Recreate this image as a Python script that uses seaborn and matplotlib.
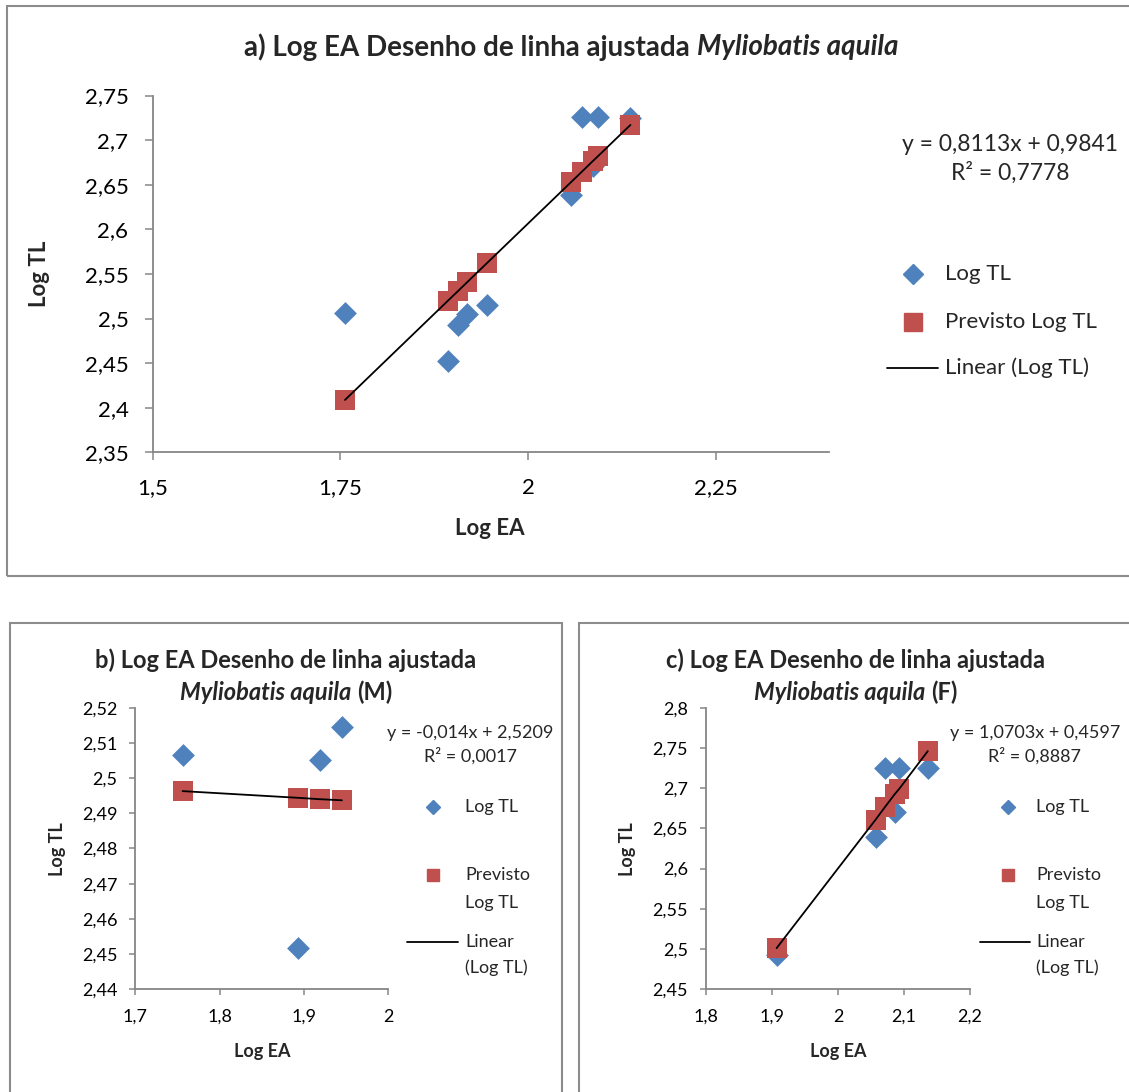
import matplotlib
matplotlib.use("Agg")
import matplotlib.pyplot as plt
from matplotlib.lines import Line2D
from matplotlib.patches import Rectangle
from matplotlib.ticker import FuncFormatter, MultipleLocator
import seaborn as sns
import pandas as pd

# valores (Log EA, Log TL)
ea_m = [1.756, 1.893, 1.919, 1.945]
tl_m = [2.5066, 2.4518, 2.5051, 2.5146]
prev_m = [2.4963, 2.4944, 2.4940, 2.4937]

ea_f = [1.907, 2.057, 2.071, 2.086, 2.093, 2.136]
tl_f = [2.4927, 2.6389, 2.7254, 2.6708, 2.7254, 2.7246]
prev_f = [2.5012, 2.6609, 2.6764, 2.6926, 2.6994, 2.7460]

ea_all = ea_m + ea_f
tl_all = tl_m + tl_f
prev_all = [2.4087, 2.5199, 2.5410, 2.5621, 2.5312, 2.6529, 2.6643, 2.6765, 2.6821, 2.7170]

eq_a = "y = 0,8113x + 0,9841\nR² = 0,7778"
eq_m = "y = -0,014x + 2,5209\nR² = 0,0017"
eq_f = "y = 1,0703x + 0,4597\nR² = 0,8887"

BLUE = "#4F81BD"
RED = "#C0504D"
GRAY = "#868686"

sns.set_style("white")
plt.rcParams['font.family'] = ['Lato', 'DejaVu Sans']

W, H = 1129, 1092
fig = plt.figure(figsize=(W / 100, H / 100), dpi=100)


def fx(px):
    return px / W


def fy(py):
    return 1 - py / H


def virgula(v, pos):
    return f"{round(v, 4):g}".replace(".", ",")


def painel(box, ea, tl, prev, xlim, xstep, ylim, ystep, fs, pads, size_d, size_s, lab_x, lab_y):
    l, t, r, b = box
    ax = fig.add_axes([fx(l), fy(b), fx(r - l), (b - t) / H])
    df = pd.DataFrame({"Log EA": ea, "Log TL": tl, "Previsto Log TL": prev})
    sns.scatterplot(data=df, x="Log EA", y="Log TL", marker="D", s=size_d, color=BLUE,
                    linewidth=0, ax=ax, zorder=2, legend=False)
    sns.scatterplot(data=df, x="Log EA", y="Previsto Log TL", marker="s", s=size_s, color=RED,
                    linewidth=0, ax=ax, zorder=3, legend=False)
    sns.lineplot(data=df, x="Log EA", y="Previsto Log TL", color="black", lw=1.3,
                 ax=ax, zorder=4, estimator=None)
    ax.set_xlim(*xlim)
    ax.set_ylim(*ylim)
    ax.xaxis.set_major_locator(MultipleLocator(xstep))
    ax.yaxis.set_major_locator(MultipleLocator(ystep))
    ax.xaxis.set_major_formatter(FuncFormatter(virgula))
    ax.yaxis.set_major_formatter(FuncFormatter(virgula))
    for s in ["top", "right"]:
        ax.spines[s].set_visible(False)
    for s in ["left", "bottom"]:
        ax.spines[s].set_color(GRAY)
        ax.spines[s].set_linewidth(1.3)
    ax.tick_params(axis="both", direction="out", length=pads[0], width=1.1, color=GRAY,
                   labelsize=fs, labelcolor="black", left=True, bottom=True)
    ax.tick_params(axis="y", pad=pads[1])
    ax.tick_params(axis="x", pad=pads[2])
    ax.set_xlabel("Log EA", fontsize=fs, fontweight="bold")
    ax.set_ylabel("Log TL", fontsize=fs, fontweight="bold")
    ax.xaxis.set_label_coords(fx(lab_x[0]), fy(lab_x[1]), transform=fig.transFigure)
    ax.yaxis.set_label_coords(fx(lab_y[0]), fy(lab_y[1]), transform=fig.transFigure)
    ax.xaxis.label.set_va("center")
    ax.yaxis.label.set_va("center")
    ax.grid(False)
    return ax


def titulo(xc, y, partes, size):
    r = fig.canvas.get_renderer()
    gap = 0.25 * size * 100 / 72
    txts = [fig.text(0, fy(y), s, fontsize=size, fontweight="bold", fontstyle=st, va="center")
            for s, st in partes]
    larg = [tx.get_window_extent(r).width for tx in txts]
    x = xc - (sum(larg) + gap * (len(larg) - 1)) / 2
    for tx, w in zip(txts, larg):
        tx.set_x(fx(x))
        x += w + gap


def legenda(x_mark, x_text, linhas, fs, ms_d, ms_s, span):
    for y, kind, label in linhas:
        if kind == "D":
            fig.add_artist(Line2D([fx(x_mark)], [fy(y)], marker="D", ms=ms_d, color=BLUE,
                                  ls="none", transform=fig.transFigure))
        elif kind == "s":
            fig.add_artist(Line2D([fx(x_mark)], [fy(y)], marker="s", ms=ms_s, color=RED,
                                  ls="none", transform=fig.transFigure))
        elif kind == "-":
            fig.add_artist(Line2D([fx(span[0]), fx(span[1])], [fy(y), fy(y)], color="black",
                                  lw=1.3, transform=fig.transFigure))
        fig.text(fx(x_text), fy(y), label, fontsize=fs, va="center")


# molduras dos gráficos
for l, t, r, b in [(7, 6, 1140, 576), (10, 623, 562, 1100), (579, 623, 1140, 1100)]:
    fig.add_artist(Rectangle((fx(l), fy(b)), fx(r - l), (b - t) / H, fill=False,
                             edgecolor="#8C8C8C", lw=1.5, transform=fig.transFigure))

# a) todos
painel((152.7, 95.5, 828.7, 452.3), ea_all, tl_all, prev_all, (1.5, 2.4), 0.25,
       (2.35, 2.75), 0.05, 16, (5.5, 12, 13), 135, 210, (490, 528), (40, 274))
titulo(571, 47, [("a) Log EA Desenho de linha ajustada", "normal"),
                 ("Myliobatis aquila", "italic")], 20)
fig.text(fx(1010), fy(159), eq_a, fontsize=16.5, ha="center", va="center",
         multialignment="center", linespacing=1.4)
legenda(913, 945, [(274, "D", "Log TL"), (322, "s", "Previsto Log TL"),
                   (368, "-", "Linear (Log TL)")], 16, 10.5, 12.5, (887, 938))

# b) machos
painel((135.4, 707.7, 388.3, 989.3), ea_m, tl_m, prev_m, (1.7, 2.0), 0.1,
       (2.44, 2.52), 0.01, 13, (4, 9, 10), 135, 210, (262, 1052), (58, 849))
titulo(286, 660, [("b) Log EA Desenho de linha ajustada", "normal")], 17)
titulo(286, 692, [("Myliobatis aquila", "italic"), ("(M)", "normal")], 17)
fig.text(fx(470), fy(745), eq_m, fontsize=13, ha="center", va="center",
         multialignment="center", linespacing=1.45)
legenda(433, 465, [(807, "D", "Log TL"), (875, "s", "Previsto"), (903, None, "Log TL"),
                   (942, "-", "Linear"), (968, None, "(Log TL)")], 13, 7.5, 9, (407, 458))

# c) fêmeas
painel((706, 707.7, 970, 989.3), ea_f, tl_f, prev_f, (1.8, 2.2), 0.1,
       (2.45, 2.8), 0.05, 13, (4, 9, 10), 135, 210, (838, 1052), (627, 849))
titulo(856, 660, [("c) Log EA Desenho de linha ajustada", "normal")], 17)
titulo(856, 692, [("Myliobatis aquila", "italic"), ("(F)", "normal")], 17)
fig.text(fx(1035), fy(745), eq_f, fontsize=13, ha="center", va="center",
         multialignment="center", linespacing=1.45)
legenda(1008, 1036, [(807, "D", "Log TL"), (875, "s", "Previsto"), (903, None, "Log TL"),
                     (942, "-", "Linear"), (968, None, "(Log TL)")], 13, 7.5, 9, (980, 1030))

fig.savefig("out.png", dpi=100, facecolor="white")
